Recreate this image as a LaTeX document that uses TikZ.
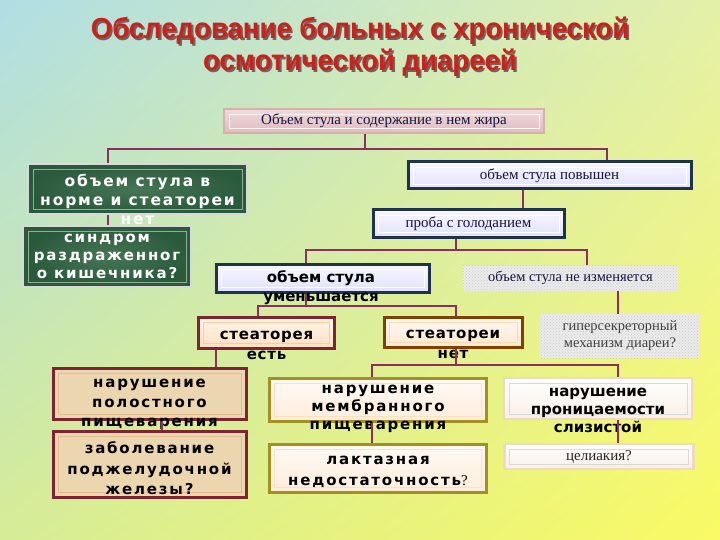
\documentclass[tikz,border=0pt]{standalone}
\usepackage{fontspec}
\usetikzlibrary{shadings,patterns}
\setmainfont{Liberation Serif}
\newfontfamily\ttlf{Liberation Sans}
\newfontfamily\bxf[LetterSpace=12]{DejaVu Sans}
\newfontfamily\bxs[LetterSpace=5]{DejaVu Sans}
\newfontfamily\bxn{DejaVu Sans}
\definecolor{bgTL}{RGB}{176,222,228}
\definecolor{bgTR}{RGB}{228,240,168}
\definecolor{bgBL}{RGB}{214,236,150}
\definecolor{bgBR}{RGB}{250,250,100}
\definecolor{linec}{HTML}{8B2F5F}
\definecolor{titc}{HTML}{C8221C}
\definecolor{shadc}{HTML}{766060}
\definecolor{navy}{HTML}{141440}
\definecolor{grnA}{RGB}{70,118,84}
\definecolor{grnB}{RGB}{42,90,60}
\definecolor{bluB}{RGB}{30,50,76}
\definecolor{parch}{RGB}{236,214,176}
\definecolor{marB}{RGB}{125,35,50}
\definecolor{pinkA}{RGB}{240,218,220}
\definecolor{pinkB}{RGB}{222,188,194}
\newcommand\shtxt[1]{\makebox[0pt][l]{\hspace{2pt}\raisebox{-2pt}{\color{shadc}#1}}#1}
\begin{document}
\begin{tikzpicture}[x=1pt,y=-1pt,
  conn/.style={draw=linec, line width=1.7pt},
  bx/.style={rectangle, inner sep=0pt, align=center},
  bevel/.style={path picture={\draw[#1, line width=0.7pt] ([shift={(5pt,-5pt)}]path picture bounding box.north west) rectangle ([shift={(-5pt,5pt)}]path picture bounding box.south east);}},
  ttl/.style={font=\ttlf\bfseries\fontsize{29}{32}\selectfont, inner sep=0pt, xscale=0.95, align=center},
  sertxt/.style={font=\fontsize{15}{17}\selectfont, text=navy},
  sanstxt/.style={font=\bxf\bfseries\fontsize{15}{19.5}\selectfont, align=center, inner sep=0pt, text=black},
  pinkbox/.style={bx, top color=pinkA, bottom color=pinkB, draw=pinkB!80!brown, line width=2pt, bevel=white!70!pinkA},
  greenbox/.style={bx, inner color=grnA, outer color=grnB, draw=gray!30!white, line width=2.5pt, bevel=grnA!60!white},
  bluebox/.style={bx, top color=blue!3!white, bottom color=blue!12!white, draw=bluB, line width=3pt, bevel=white},
  granite/.style={bx, fill=gray!16!white, postaction={pattern=crosshatch dots, pattern color=gray!40}},
  peachbox/.style={bx, top color=orange!8!white, bottom color=orange!25!white, draw=marB, line width=3pt, bevel=orange!40!white},
  goldbox/.style={bx, top color=orange!5!white, bottom color=orange!18!white, draw=orange!50!black, line width=3pt, bevel=orange!30!white},
  parchbox/.style={bx, fill=parch, draw=marB, line width=3pt, bevel=parch!70!brown},
  creambox/.style={bx, top color=orange!4!white, bottom color=orange!14!white, draw=olive!60!brown, line width=3pt, bevel=orange!25!white},
  whitebox/.style={bx, top color=white, bottom color=orange!8!white!95!gray, draw=gray!40!orange!30!white, line width=2.5pt, bevel=gray!30!white}
]
\useasboundingbox (0,0) rectangle (720,540);
\shade[upper left=bgTL, upper right=bgTR, lower left=bgBL, lower right=bgBR] (0,0) rectangle (720,540);

% title
\node[ttl, text=titc] (t1) at (360,48) {\shtxt{Обследование больных с хронической}\\\shtxt{осмотической диареей}};

% boxes without overflow
\node[pinkbox, minimum width=320pt, minimum height=24pt, sertxt] (b0) at (384,121) {Объем стула и содержание в нем жира};
\node[bluebox, minimum width=283pt, minimum height=27pt, sertxt] (p1) at (549.5,175.5) {объем стула повышен};
\node[bluebox, minimum width=191pt, minimum height=27pt, sertxt] (p2) at (468.5,223.5) {проба с голоданием};
\node[granite, minimum width=215pt, minimum height=25pt, sertxt, font=\fontsize{14.5}{17}\selectfont] (n1) at (570.5,278) {объем стула не изменяется};
\node[granite, minimum width=160pt, minimum height=44pt, font=\fontsize{14.5}{17}\selectfont, text=black!75] (h1) at (620,336) {гиперсекреторный\\механизм диареи?};

% green boxes
\node[greenbox, minimum width=219pt, minimum height=50pt] (g1) at (137.5,189) {};
\node[sanstxt, text=white, font=\bxf\bfseries\fontsize{15.5}{19}\selectfont] (g1t) at (137.5,199) {объем стула в\\норме и стеатореи\\нет};
\node[greenbox, minimum width=168pt, minimum height=61pt] (g2) at (107,256.5) {};
\node[sanstxt, text=white, font=\bxf\bfseries\fontsize{15}{18}\selectfont] (g2t) at (107,256) {синдром\\раздраженног\\о кишечника?};

% decreasing volume
\node[bluebox, minimum width=213pt, minimum height=28pt] (u1) at (322.5,278) {};
\node[sanstxt, font=\bxn\bfseries\fontsize{15}{19.5}\selectfont] (u1t) at (321,287.5) {объем стула\\уменьшается};

% steatorrhea
\node[peachbox, minimum width=136pt, minimum height=31pt] (s1) at (266,333) {};
\node[sanstxt, font=\bxs\bfseries\fontsize{15}{20}\selectfont] (s1t) at (266.5,345) {стеаторея\\есть};
\node[goldbox, minimum width=138pt, minimum height=30pt] (s2) at (453,332.5) {};
\node[sanstxt, font=\bxs\bfseries\fontsize{15}{20}\selectfont] (s2t) at (453,344.5) {стеатореи\\нет};

% left column
\node[parchbox, minimum width=193pt, minimum height=51pt] (a1) at (149.5,393.5) {};
\node[sanstxt] (a1t) at (149.5,404.5) {нарушение\\полостного\\пищеварения};
\node[parchbox, minimum width=193pt, minimum height=66pt] (a2) at (149.5,464) {};
\node[sanstxt, font=\bxf\bfseries\fontsize{15}{20.5}\selectfont] (a2t) at (149.5,468.5) {заболевание\\поджелудочной\\железы?};

% middle column
\node[creambox, minimum width=217pt, minimum height=43pt] (m1) at (377.5,399.5) {};
\node[sanstxt, font=\bxf\bfseries\fontsize{15}{18}\selectfont] (m1t) at (378,409) {нарушение\\мембранного\\пищеварения};
\node[creambox, minimum width=217pt, minimum height=48pt] (m2) at (377.5,468) {};
\node[sanstxt, font=\bxf\bfseries\fontsize{15}{21.5}\selectfont] (m2t) at (378,472) {лактазная\\недостаточность{\rmfamily\mdseries ?}};

% right column
\node[whitebox, minimum width=188pt, minimum height=41pt] (q1) at (598,398.5) {};
\node[sanstxt, font=\bxn\bfseries\fontsize{15}{18}\selectfont] (q1t) at (598,410) {нарушение\\проницаемости\\слизистой};
\node[whitebox, minimum width=189pt, minimum height=25pt, sertxt, text=black!85] (q2) at (599,456.5) {целиакия?};

% connectors
\coordinate (j1) at (365,149);
\coordinate (j1l) at (108,149);
\coordinate (j1r) at (607,149);
\draw[conn] (b0.south -| j1) -- (j1);
\draw[conn] (g1.north -| j1l) -- (j1l) -- (j1r) -- (p1.north -| j1r);
\coordinate (c2) at (108,220);
\draw[conn] (g1.south -| c2) -- (g2.north -| c2);
\coordinate (c3) at (523,200);
\draw[conn] (p1.south -| c3) -- (p2.north -| c3);
\coordinate (j2) at (456,250);
\coordinate (j2l) at (306,250);
\coordinate (j2r) at (587,250);
\draw[conn] (p2.south -| j2) -- (j2);
\draw[conn] (u1.north -| j2l) -- (j2l) -- (j2r) -- (n1.north -| j2r);
\coordinate (c4) at (618,300);
\draw[conn] (n1.south -| c4) -- (h1.north -| c4);
\coordinate (j3) at (306,306);
\coordinate (j3l) at (258,306);
\coordinate (j3r) at (456,306);
\draw[conn] (u1.south -| j3) -- (j3);
\draw[conn] (s1.north -| j3l) -- (j3l) -- (j3r) -- (s2.north -| j3r);
\coordinate (c5) at (216,358);
\draw[conn] (s1.south -| c5) -- (a1.north -| c5);
\coordinate (j4) at (456,365);
\coordinate (j4l) at (372,365);
\coordinate (j4r) at (618,365);
\draw[conn] (s2.south -| j4) -- (j4);
\draw[conn] (m1.north -| j4l) -- (j4l) -- (j4r) -- (q1.north -| j4r);
\coordinate (c6) at (162,425);
\draw[conn] (a1.south -| c6) -- (a2.north -| c6);
\coordinate (c7) at (372,432);
\draw[conn] (m1.south -| c7) -- (m2.north -| c7);
\coordinate (c8) at (618,432);
\draw[conn] (q1.south -| c8) -- (q2.north -| c8);
\end{tikzpicture}
\end{document}
